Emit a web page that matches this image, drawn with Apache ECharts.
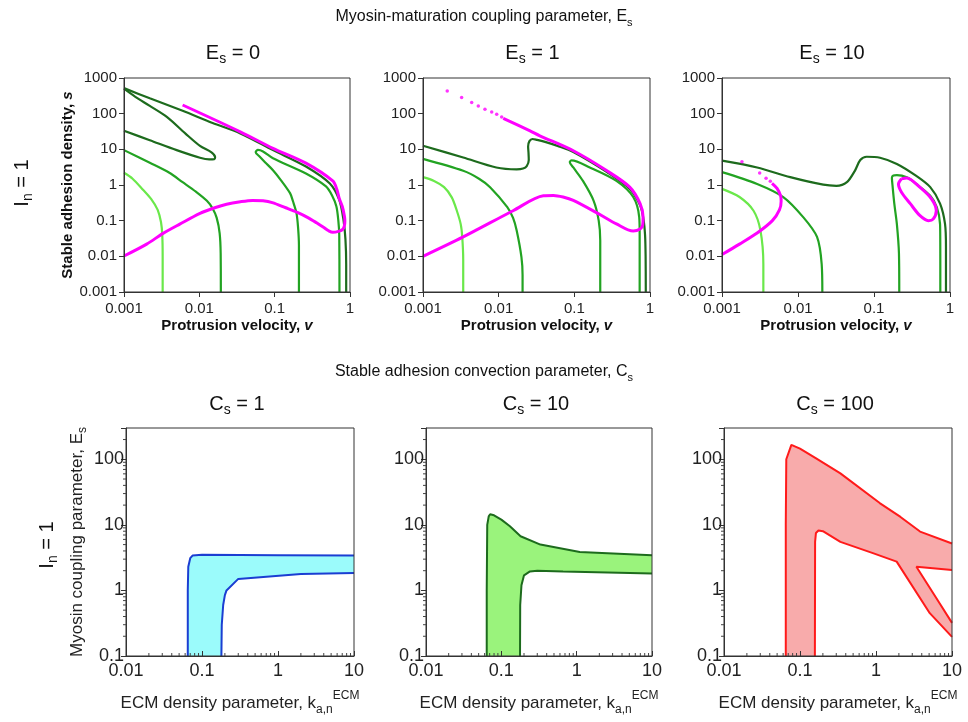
<!DOCTYPE html>
<html>
<head>
<meta charset="utf-8">
<script src="https://cdn.jsdelivr.net/npm/echarts@6/dist/echarts.min.js"></script>
<style>
  html, body { margin: 0; padding: 0; background: #fff; }
  #chart { width: 968px; height: 722px; }
</style>
</head>
<body>
<div id="chart"></div>
<script>
// tick labels
const topXTicks = ['0.001', '0.01', '0.1', '1'];
const topYTicks = ['0.001', '0.01', '0.1', '1', '10', '100', '1000'];
const botXTicks = ['0.01', '0.1', '1', '10'];
const botYTicks = ['0.1', '1', '10', '100'];
const minorSteps = [2, 3, 4, 5, 6, 7, 8, 9];
const esValues = ['0', '1', '10'];
const csValues = ['1', '10', '100'];

// ---- top row: (v, s) curves, E_s = 0 ----
const p0Light = [[0.001,2.2],[0.0013,1.5],[0.0018,0.72],[0.0023,0.4],[0.0028,0.2],[0.0031,0.09],[0.00322,0.04],[0.00326,0.01],[0.00326,0.001]];
const p0Mid = [[0.001,9.5],[0.0022,4.2],[0.004,2.2],[0.006,1.2],[0.009,0.65],[0.0126,0.36],[0.015,0.22],[0.017,0.12],[0.0186,0.045],[0.0192,0.012],[0.0193,0.001]];
const p0MidLoop = [[0.21,0.001],[0.21,0.02],[0.205,0.06],[0.195,0.16],[0.175,0.35],[0.16,0.59],[0.12,1.4],[0.095,2.6],[0.075,4.3],[0.063,6.3],[0.056,8.3],[0.06,9.6],[0.07,8.7],[0.095,5.6],[0.26,2.1],[0.48,0.91],[0.58,0.5],[0.66,0.25],[0.7,0.1],[0.72,0.04],[0.725,0.001]];
const p0Tongue = [[0.001,33],[0.0022,18],[0.005,9.5],[0.0102,5.8],[0.0135,5.2],[0.0158,5.3],[0.0162,6],[0.0145,8.2],[0.0102,12.5],[0.0065,28],[0.0037,81],[0.0022,165],[0.0014,300],[0.001,500]];
const p0Top = [[0.001,520],[0.0022,270],[0.006,120],[0.015,55],[0.035,28],[0.095,9.5],[0.26,3.3],[0.54,1.1],[0.72,0.38],[0.82,0.104],[0.87,0.03],[0.89,0.006],[0.89,0.001]];
const p0Mag = [[0.006,175],[0.035,31],[0.095,10.7],[0.26,4.1],[0.59,1.3],[0.67,0.75],[0.72,0.42],[0.79,0.25],[0.84,0.14],[0.855,0.1],[0.84,0.07],[0.8,0.057],[0.72,0.051],[0.59,0.047],[0.52,0.052],[0.45,0.064],[0.36,0.087],[0.28,0.12],[0.2,0.17],[0.14,0.23],[0.093,0.32],[0.07,0.36],[0.051,0.37],[0.035,0.34],[0.023,0.29],[0.016,0.23],[0.0102,0.16],[0.0055,0.08],[0.0033,0.044],[0.002,0.022],[0.001,0.0102]];

// ---- E_s = 1 ----
const p1Light = [[0.001,1.66],[0.0014,1.3],[0.0019,0.87],[0.0024,0.45],[0.0028,0.19],[0.00315,0.08],[0.0033,0.035],[0.0034,0.008],[0.0034,0.001]];
const p1Mid = [[0.001,5.4],[0.0034,2.5],[0.0055,1.5],[0.0077,0.87],[0.013,0.24],[0.0155,0.12],[0.0173,0.053],[0.02,0.0095],[0.0207,0.003],[0.0207,0.001]];
const p1MidLoop = [[0.22,0.001],[0.22,0.028],[0.21,0.1],[0.18,0.36],[0.13,1.3],[0.097,3.1],[0.087,4.4],[0.092,4.9],[0.16,3.1],[0.36,1.3],[0.6,0.46],[0.72,0.126],[0.73,0.044],[0.73,0.001]];
const p1Dark = [[0.001,12.6],[0.0034,5.9],[0.0093,3.1],[0.0173,2.75],[0.021,2.9],[0.0235,3.4],[0.025,5],[0.0248,8],[0.0245,12],[0.0255,17],[0.028,19.5],[0.032,18.5],[0.04,16.5],[0.06,12.5],[0.097,8.4],[0.27,2.3],[0.54,0.78],[0.74,0.27],[0.82,0.11],[0.86,0.04],[0.875,0.01],[0.88,0.001]];
const p1MagDots = [[0.00209,434],[0.00324,282],[0.0044,204],[0.00538,165],[0.00659,134],[0.00809,112],[0.00942,97],[0.01096,81]];
const p1Mag = [[0.0115,74],[0.026,33],[0.035,24],[0.097,9.1],[0.27,2.5],[0.54,0.87],[0.74,0.3],[0.81,0.126],[0.8,0.075],[0.74,0.058],[0.6,0.051],[0.36,0.081],[0.21,0.155],[0.097,0.37],[0.071,0.46],[0.053,0.51],[0.039,0.5],[0.0155,0.19],[0.0034,0.035],[0.001,0.01]];

// ---- E_s = 10 ----
const p2Light = [[0.001,0.78],[0.0017,0.46],[0.0026,0.19],[0.0032,0.054],[0.0035,0.006],[0.0035,0.001]];
const p2Mid = [[0.001,2.3],[0.0029,1.07],[0.0064,0.46],[0.0117,0.126],[0.0178,0.035],[0.0205,0.006],[0.0209,0.001]];
const p2MidLoop = [[0.215,0.001],[0.213,0.012],[0.2,0.08],[0.185,0.3],[0.175,1.0],[0.172,1.6],[0.18,1.85],[0.2,1.9],[0.27,1.64],[0.36,1.07],[0.55,0.5],[0.67,0.24],[0.74,0.08],[0.745,0.02],[0.746,0.001]];
const p2Dark = [[0.001,4.8],[0.0029,3.1],[0.0079,1.66],[0.0215,1.02],[0.032,0.95],[0.044,1.2],[0.056,2.5],[0.066,5.0],[0.08,6.2],[0.12,5.8],[0.2,3.9],[0.36,1.8],[0.55,0.87],[0.74,0.3],[0.86,0.081],[0.885,0.018],[0.885,0.001]];
const p2MagDots = [[0.00183,4.5],[0.00313,2.18],[0.0038,1.54],[0.00432,1.27]];
const p2Mag = [[0.00455,1.11],[0.0053,0.8],[0.0059,0.5],[0.006,0.35],[0.0057,0.2],[0.0046,0.1],[0.0029,0.045],[0.0017,0.022],[0.001,0.0112]];
const p2MagLoop = [[0.23,1.5],[0.27,1.58],[0.4,0.87],[0.57,0.41],[0.66,0.19],[0.6,0.11],[0.52,0.1],[0.4,0.14],[0.3,0.3],[0.23,0.63],[0.21,1.07],[0.23,1.5]];

// ---- bottom row: (k, E_s) region boundaries ----
const b1Outer = [[0.065,0.1],[0.065,1],[0.066,2.3],[0.07,3.1],[0.075,3.4],[0.1,3.5],[1,3.45],[10,3.4]];
const b1Inner = [[10,1.85],[2,1.78],[0.3,1.5],[0.21,1.0],[0.2,0.85],[0.19,0.6],[0.182,0.3],[0.18,0.1]];
const b2Outer = [[0.064,0.1],[0.064,1],[0.065,10],[0.068,13.5],[0.071,14.5],[0.08,14],[0.1,12],[0.13,9.5],[0.18,6.7],[0.33,5.0],[1.1,3.85],[10,3.45]];
const b2Inner = [[10,1.82],[0.66,1.95],[0.3,2.0],[0.24,1.95],[0.2,1.7],[0.185,1.2],[0.178,0.6],[0.177,0.1]];
const b3Outer = [[0.065,0.1],[0.065,10],[0.066,100],[0.077,166],[0.1,145],[0.165,102],[0.34,61],[1.12,21.5],[2.1,13.2],[3.8,7.9],[10,5.2]];
const b3Notch = [[10,2.05],[3.4,2.3],[6.9,0.63],[10,0.32]];
const b3Inner = [[10,0.196],[5.1,0.45],[1.87,2.75],[0.91,3.7],[0.34,5.5],[0.2,8.0],[0.175,8.2],[0.162,7.5],[0.158,5.5],[0.157,0.1]];

const FONT = '"Liberation Sans", Arial, sans-serif';
const C_DARK = '#1d6b1d', C_MID = '#22a322', C_LIGHT = '#6ae84a', C_MAG = '#ff00ff';

const tickFmt = labels => v => {
    const hit = labels.find(l => Math.abs(Math.log10(+l) - Math.log10(v)) < 1e-6);
    return hit || '';
};

const topGrid = [[124, 226], [423, 227], [722, 228]];
const botGrid = [[126, 228], [426, 226], [724, 228]];

const grid = [];
const xAxis = [];
const yAxis = [];
const series = [];

const gridBox = { show: true, borderColor: '#333', borderWidth: 1, backgroundColor: 'transparent', z: 6 };
const axisLine = { show: true, onZero: false, lineStyle: { color: '#333', width: 1 } };
const boldRich = size => ({
    b: { fontSize: size, fontWeight: 'bold', color: '#111', fontFamily: FONT },
    bi: { fontSize: size, fontWeight: 'bold', fontStyle: 'italic', color: '#111', fontFamily: FONT }
});

topGrid.forEach((g, i) => {
    grid.push(Object.assign({ left: g[0], top: 78, width: g[1], height: 214 }, gridBox));
    xAxis.push({
        gridIndex: i, type: 'log', logBase: 10, min: 0.001, max: 1, z: 6,
        axisLine, axisTick: { show: true, length: 5, lineStyle: { color: '#333' } },
        axisLabel: { formatter: tickFmt(topXTicks), fontSize: 15, color: '#222', margin: 9, fontFamily: FONT },
        splitLine: { show: false },
        name: '{b|Protrusion velocity, }{bi|v}', nameLocation: 'middle', nameGap: 26,
        nameTextStyle: { rich: boldRich(15) }
    });
    yAxis.push({
        gridIndex: i, type: 'log', logBase: 10, min: 0.001, max: 1000, z: 6,
        axisLine, axisTick: { show: true, length: 5, lineStyle: { color: '#333' } },
        axisLabel: { formatter: tickFmt(topYTicks), fontSize: 15, color: '#222', margin: 7, fontFamily: FONT },
        splitLine: { show: false },
        name: i === 0 ? '{b|Stable adhesion density, }{bi|s}' : '', nameLocation: 'middle', nameGap: 17,
        nameTextStyle: { rich: boldRich(15) }
    });
});

botGrid.forEach((g, j) => {
    const i = j + 3;
    grid.push(Object.assign({ left: g[0], top: 428, width: g[1], height: 228 }, gridBox));
    xAxis.push({
        gridIndex: i, type: 'log', logBase: 10, min: 0.01, max: 10, z: 6,
        axisLine, axisTick: { show: true, inside: true, length: 5, lineStyle: { color: '#333' } },
        axisLabel: { formatter: tickFmt(botXTicks), fontSize: 18, color: '#222', margin: 6, fontFamily: FONT },
        splitLine: { show: false },
        name: '{t|ECM density parameter, k}{sub|a,n}{sup|ECM}', nameLocation: 'middle', nameGap: 34,
        nameTextStyle: { rich: {
            t: { fontSize: 17, color: '#222', fontFamily: FONT, lineHeight: 26, verticalAlign: 'middle' },
            sub: { fontSize: 12, color: '#222', fontFamily: FONT, lineHeight: 12, verticalAlign: 'bottom' },
            sup: { fontSize: 12, color: '#222', fontFamily: FONT, lineHeight: 12, verticalAlign: 'top' }
        } }
    });
    yAxis.push({
        gridIndex: i, type: 'log', logBase: 10, min: 0.1, max: 300, z: 6,
        axisLine, axisTick: { show: true, length: 5, lineStyle: { color: '#333' } },
        axisLabel: { formatter: tickFmt(botYTicks), fontSize: 18, color: '#222', margin: 2, fontFamily: FONT },
        splitLine: { show: false },
        name: j === 0 ? '{t|Myosin coupling parameter, E}{sub|s}' : '', nameLocation: 'middle', nameGap: 37,
        nameTextStyle: { rich: {
            t: { fontSize: 17, color: '#222', fontFamily: FONT, lineHeight: 24, verticalAlign: 'middle' },
            sub: { fontSize: 12, color: '#222', fontFamily: FONT, lineHeight: 12, verticalAlign: 'bottom' }
        } }
    });
});

const line = (data, gi, color, width) => ({
    type: 'line', xAxisIndex: gi, yAxisIndex: gi, data, showSymbol: false, symbol: 'none',
    smooth: 0.3, lineStyle: { color, width }, silent: true, z: 3
});
const dots = (data, gi) => ({
    type: 'scatter', xAxisIndex: gi, yAxisIndex: gi, data, symbolSize: 3.5,
    itemStyle: { color: C_MAG }, silent: true, z: 4
});
const outline = (data, gi, color) => ({
    type: 'line', xAxisIndex: gi, yAxisIndex: gi, data, showSymbol: false, symbol: 'none',
    smooth: false, lineStyle: { color, width: 2 }, silent: true, z: 4
});
const region = (pts, gi, fill) => ({
    type: 'custom', xAxisIndex: gi, yAxisIndex: gi, data: [[1, 1]], silent: true, z: 2,
    renderItem: (params, api) => ({
        type: 'polygon',
        shape: { points: pts.map(p => api.coord(p)) },
        style: { fill: fill, stroke: null }
    })
});

// log-spaced minor ticks on the bottom axes, placed through the axis scales
const minorX = [];
[0.01, 0.1, 1].forEach(d => minorSteps.forEach(m => minorX.push(+(d * m).toPrecision(3))));
const minorY = [];
[0.1, 1, 10, 100].forEach(d => minorSteps.forEach(m => { const v = +(d * m).toPrecision(3); if (v < 300) minorY.push(v); }));
const minorTicks = gi => ({
    type: 'custom', xAxisIndex: gi, yAxisIndex: gi, data: [[1, 1]], silent: true, z: 7,
    renderItem: (params, api) => {
        const children = [];
        minorX.forEach(v => {
            const p = api.coord([v, 0.1]);
            children.push({ type: 'line', shape: { x1: p[0], y1: p[1], x2: p[0], y2: p[1] - 3 }, style: { stroke: '#444', lineWidth: 1 } });
        });
        minorY.forEach(v => {
            const p = api.coord([0.01, v]);
            children.push({ type: 'line', shape: { x1: p[0], y1: p[1], x2: p[0] - 3, y2: p[1] }, style: { stroke: '#444', lineWidth: 1 } });
        });
        return { type: 'group', children };
    }
});

// E_s = 0
series.push(line(p0Light, 0, C_LIGHT, 2.2), line(p0Mid, 0, C_MID, 2.2), line(p0MidLoop, 0, C_MID, 2.2),
    line(p0Tongue, 0, C_DARK, 2.2), line(p0Top, 0, C_DARK, 2.2), line(p0Mag, 0, C_MAG, 3));
// E_s = 1
series.push(line(p1Light, 1, C_LIGHT, 2.2), line(p1Mid, 1, C_MID, 2.2), line(p1MidLoop, 1, C_MID, 2.2),
    line(p1Dark, 1, C_DARK, 2.2), line(p1Mag, 1, C_MAG, 3), dots(p1MagDots, 1));
// E_s = 10
series.push(line(p2Light, 2, C_LIGHT, 2.2), line(p2Mid, 2, C_MID, 2.2), line(p2MidLoop, 2, C_MID, 2.2),
    line(p2Dark, 2, C_DARK, 2.2), line(p2Mag, 2, C_MAG, 3), line(p2MagLoop, 2, C_MAG, 3), dots(p2MagDots, 2));

// C_s panels
series.push(region(b1Outer.concat(b1Inner), 3, '#9bfbfb'), outline(b1Outer, 3, '#1b3ed2'), outline(b1Inner, 3, '#1b3ed2'));
series.push(region(b2Outer.concat(b2Inner), 4, '#9af37c'), outline(b2Outer, 4, '#1d6b1d'), outline(b2Inner, 4, '#1d6b1d'));
series.push(region(b3Outer.concat(b3Notch, b3Inner), 5, '#f8abab'), outline(b3Outer, 5, '#ff1a1a'),
    outline(b3Notch, 5, '#ff1a1a'), outline(b3Inner, 5, '#ff1a1a'));
series.push(minorTicks(3), minorTicks(4), minorTicks(5));

// headings
const richHead = size => ({
    m: { fontSize: size, fontFamily: FONT, fill: '#111', lineHeight: size + 6, verticalAlign: 'middle' },
    s: { fontSize: Math.round(size * 0.68), fontFamily: FONT, fill: '#111', lineHeight: 10, verticalAlign: 'bottom' }
});
const label = (x, y, text, size, rotation) => ({
    type: 'text', x, y, rotation: rotation || 0, silent: true,
    style: { text, rich: richHead(size), align: 'center', verticalAlign: 'middle' }
});

const graphic = [
    label(484, 17, '{m|Myosin-maturation coupling parameter, E}{s|s}', 16),
    label(484, 372, '{m|Stable adhesion convection parameter, C}{s|s}', 16),
    label(22, 183, '{m|I}{s|n}{m| = 1}', 20, Math.PI / 2),
    label(47, 545, '{m|I}{s|n}{m| = 1}', 20, Math.PI / 2)
];
topGrid.forEach((g, i) => graphic.push(label(g[0] + g[1] / 2 - 4, 53, '{m|E}{s|s}{m| = ' + esValues[i] + '}', 20)));
botGrid.forEach((g, i) => graphic.push(label(g[0] + g[1] / 2 - 3, 404, '{m|C}{s|s}{m| = ' + csValues[i] + '}', 20)));

const chart = echarts.init(document.getElementById('chart'));
chart.setOption({
    animation: false,
    backgroundColor: '#fff',
    grid, xAxis, yAxis, series, graphic
});
</script>
</body>
</html>
